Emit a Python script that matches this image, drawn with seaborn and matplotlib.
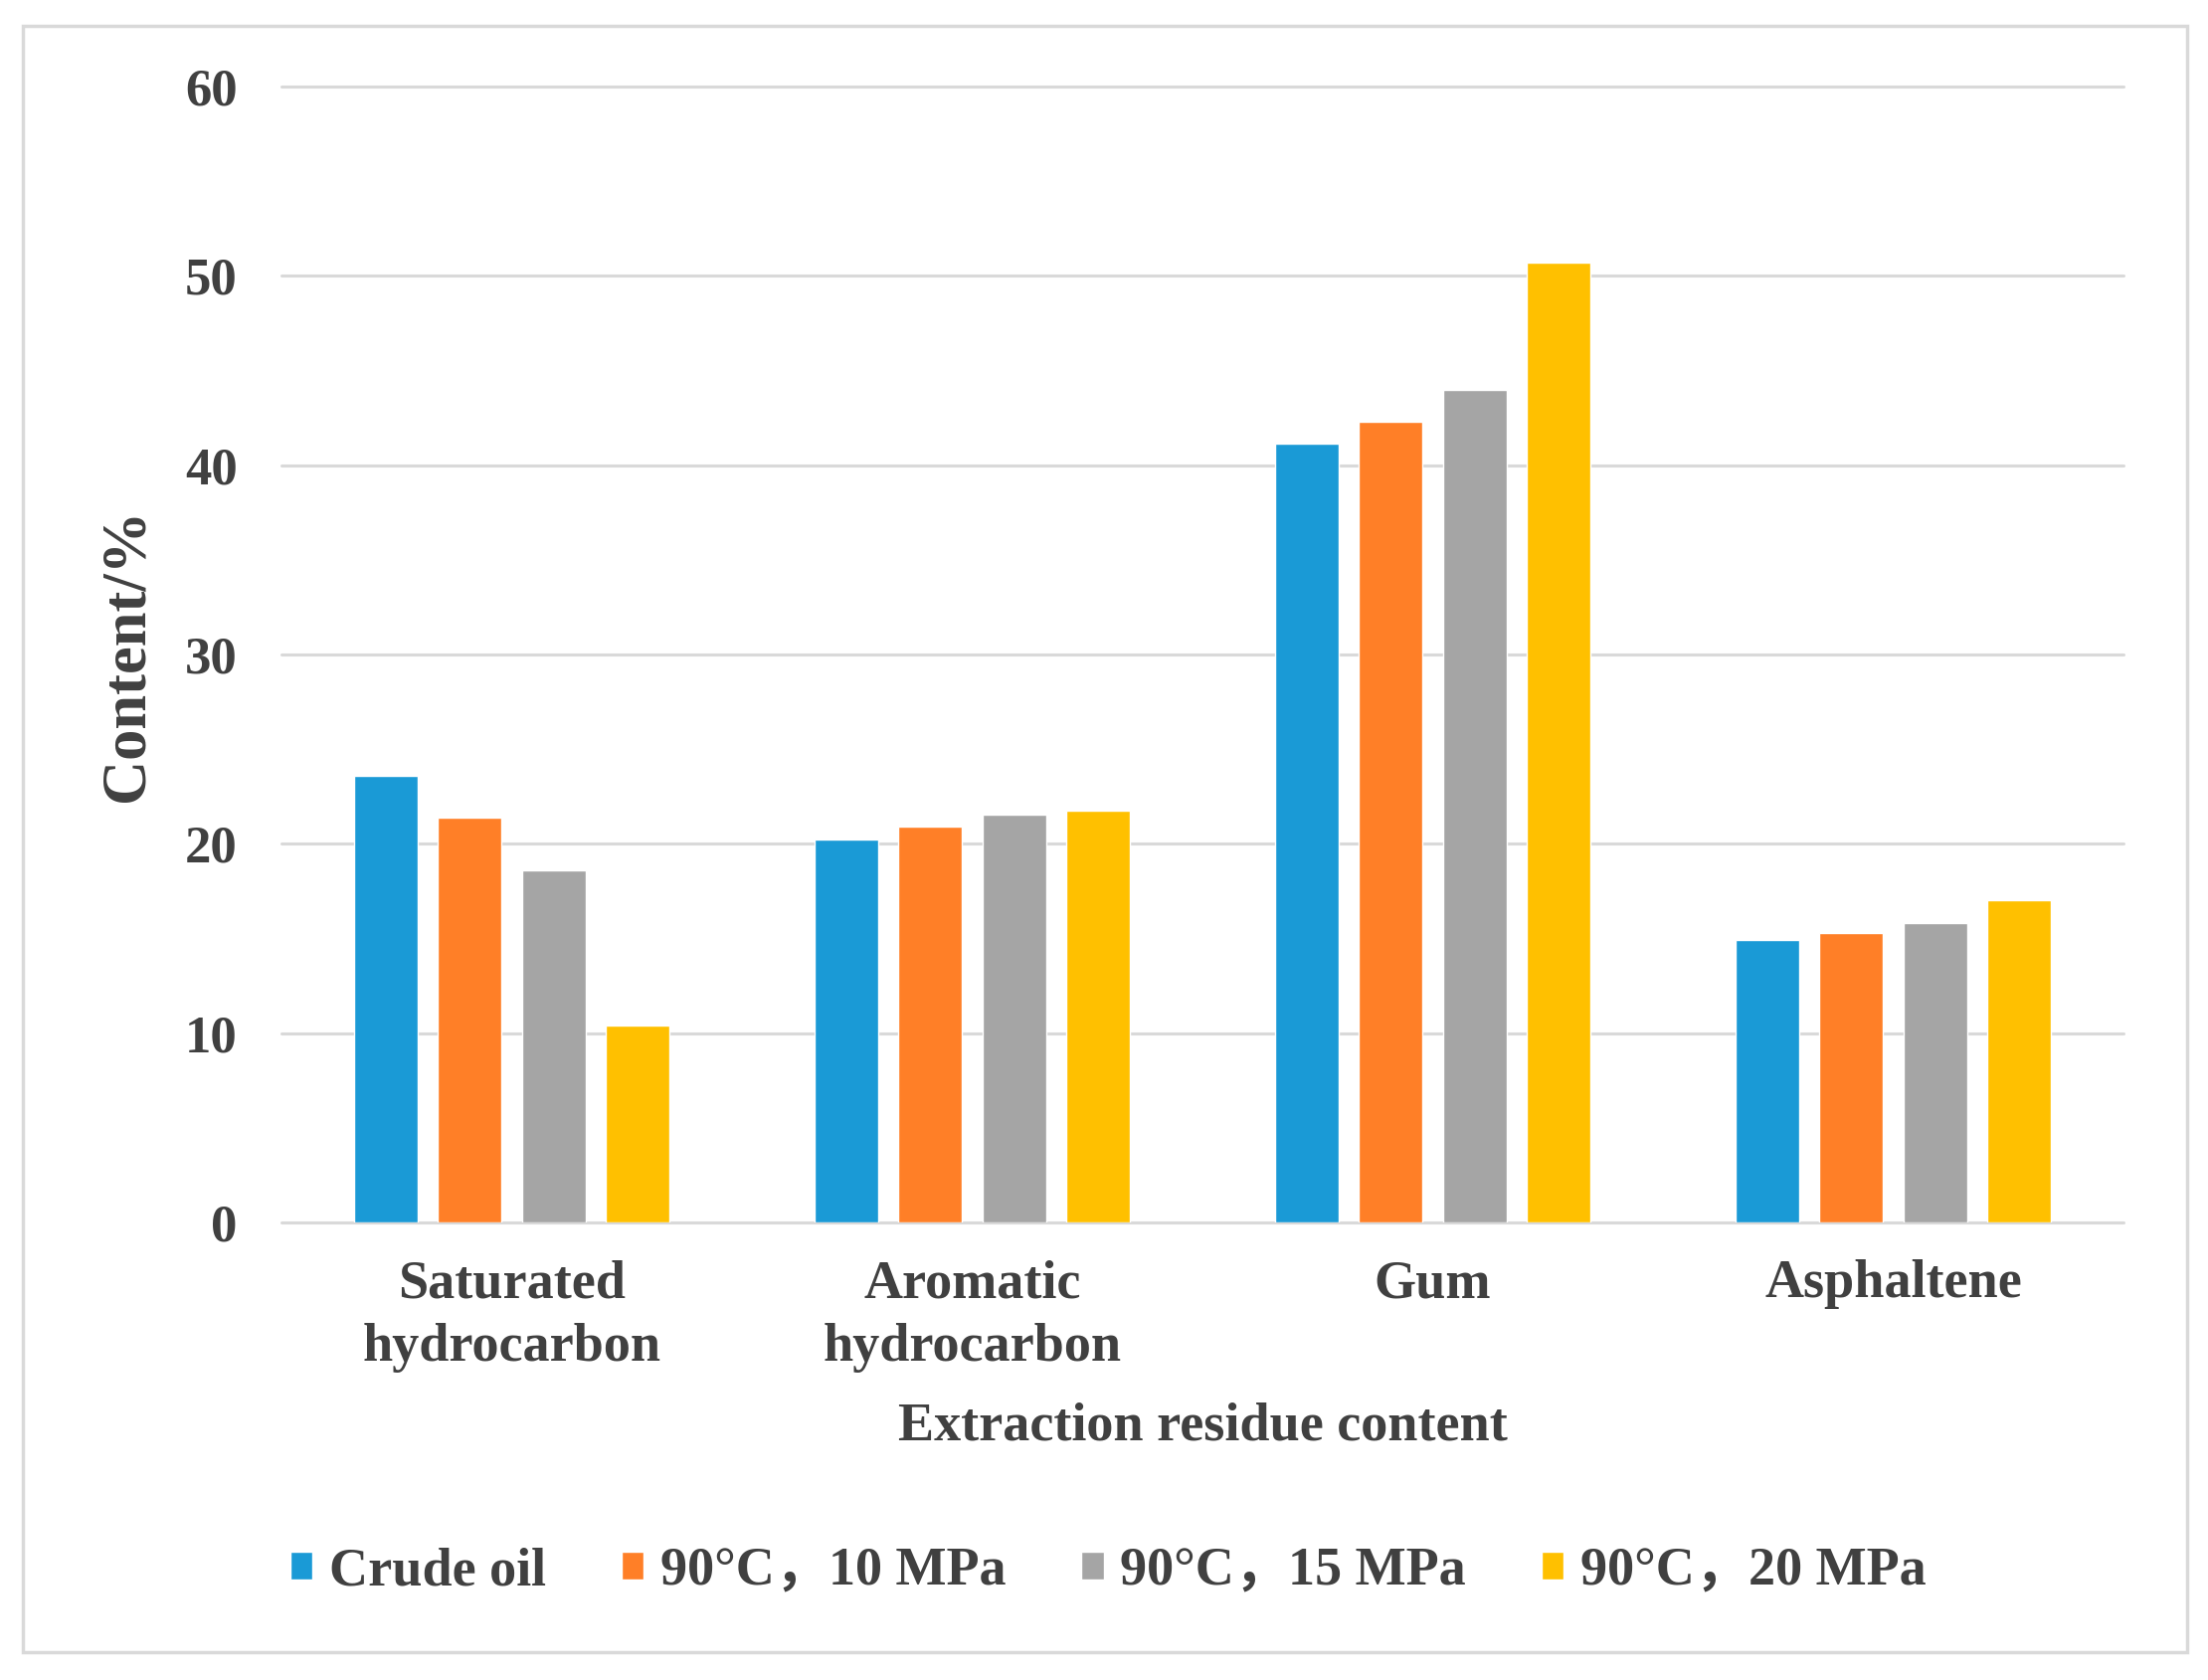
import matplotlib
matplotlib.use("Agg")
import matplotlib.pyplot as plt
import seaborn as sns
import pandas as pd
from matplotlib.patches import Rectangle

categories = ["Saturated\nhydrocarbon", "Aromatic\nhydrocarbon", "Gum", "Asphaltene"]
series_names = ["Crude oil", "90°C，10 MPa", "90°C，15 MPa", "90°C，20 MPa"]
crude_oil = [23.6, 20.25, 41.15, 14.9]
mpa_10 = [21.4, 20.9, 42.3, 15.3]
mpa_15 = [18.6, 21.55, 44.0, 15.8]
mpa_20 = [10.4, 21.75, 50.7, 17.0]
y_ticks = [0, 10, 20, 30, 40, 50, 60]
colors = ["#1a9ad6", "#ff7f27", "#a5a5a5", "#ffc000"]

rows = []
for name, vals in zip(series_names, [crude_oil, mpa_10, mpa_15, mpa_20]):
    for c, v in zip(categories, vals):
        rows.append({"category": c, "value": v, "condition": name})
df = pd.DataFrame(rows)

sns.set_theme(style="white")
plt.rcParams["font.family"] = ["Liberation Serif", "Noto Sans CJK SC", "DejaVu Sans"]
text_color = "#404040"

fig = plt.figure(figsize=(22.2, 16.89), dpi=100)
fig.patch.set_facecolor("white")
ax = fig.add_axes([283 / 2220, 1 - 1229 / 1689, (2135 - 283) / 2220, (1229 - 87) / 1689])

sns.barplot(data=df, x="category", y="value", hue="condition", palette=colors,
            hue_order=series_names, order=categories, width=0.73, gap=0.24,
            saturation=1, ax=ax, legend=True)

ax.set_ylim(0, 60)
ax.set_xlim(-0.5, 3.5)
ax.set_yticks(y_ticks)
ax.yaxis.grid(True, color="#d9d9d9", linewidth=2.2)
ax.set_axisbelow(True)
for line in ax.get_ygridlines():
    line.set_clip_on(False)
for s in ax.spines.values():
    s.set_visible(False)

ax.tick_params(axis="both", length=0, colors=text_color)
ax.tick_params(axis="y", pad=32, labelsize=38)
ax.tick_params(axis="x", pad=27, labelsize=39)
for lab in ax.get_xticklabels() + ax.get_yticklabels():
    lab.set_fontweight("bold")
    lab.set_color(text_color)
for lab in ax.get_xticklabels():
    lab.set_linespacing(1.35)

ax.set_ylabel("Content/%", fontsize=45, fontweight="bold", color=text_color)
ax.yaxis.set_label_coords(-0.068, 0.5)
ax.set_xlabel("Extraction residue content", fontsize=39, fontweight="bold", color=text_color)
ax.xaxis.set_label_coords(0.5, -0.158)

handles, labels = ax.get_legend_handles_labels()
ax.get_legend().remove()
leg = fig.legend(handles, labels, ncol=4, loc="center",
                 bbox_to_anchor=(1114 / 2220, 1 - 1580 / 1689), frameon=False,
                 prop={"size": 39, "weight": "bold"},
                 handlelength=0.42, handleheight=0.42, handletextpad=0.3,
                 columnspacing=1.4)
for t in leg.get_texts():
    t.set_color(text_color)

fig.patches.append(Rectangle((23 / 2220, 1 - 1661 / 1689), (2199 - 23) / 2220,
                             (1661 - 26) / 1689, transform=fig.transFigure,
                             fill=False, edgecolor="#d9d9d9", linewidth=2.5))

fig.savefig("out.png", dpi=100, facecolor="white")
